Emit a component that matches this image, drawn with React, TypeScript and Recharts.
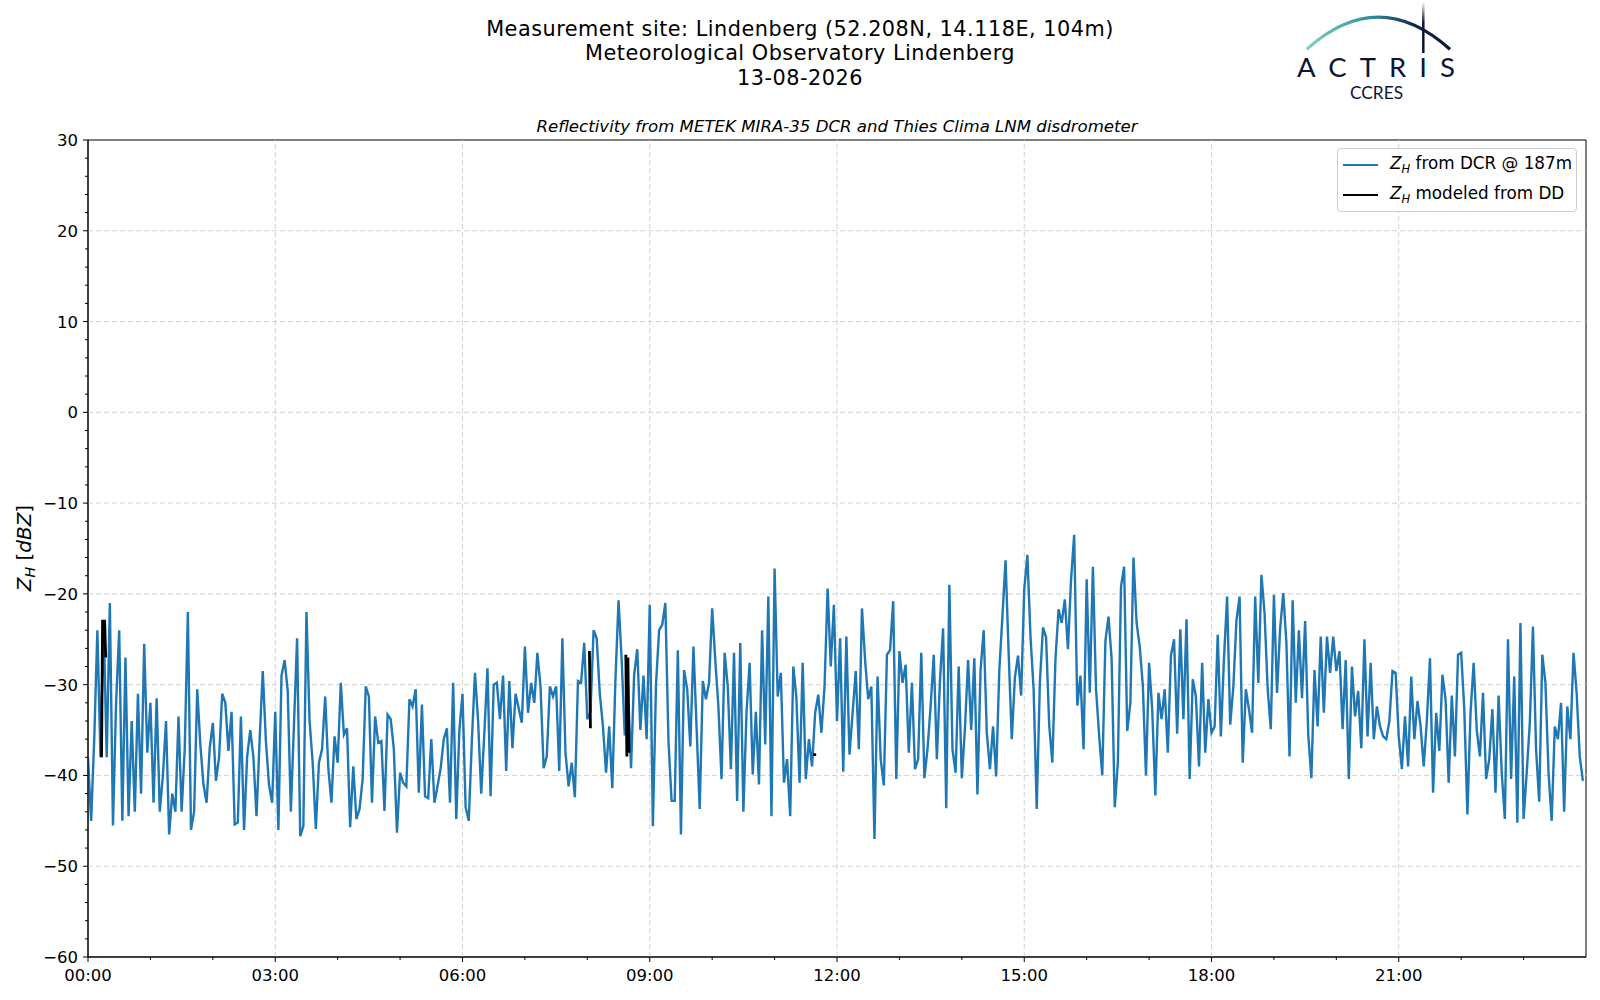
import { LineChart, Line, XAxis, YAxis, ReferenceLine, ReferenceArea, Legend } from 'recharts';

// radar reflectivity at 187 m, one value every 3 minutes, split into 3-hour blocks
const zh0000 = [
  -38, -45, -36, -24, -38, -23, -38, -21, -45.5, -32,
  -24, -45, -27, -44.5, -34, -44, -31, -42, -25.5, -37.5,
  -32, -43, -31.5, -44, -40, -34, -46.5, -42, -44, -33.5,
  -44, -37, -22, -46, -44, -30.5, -36.6, -41, -43, -37,
  -34.2, -40.6, -38, -31, -32, -37.3, -33, -45.4, -45.2, -33.5,
  -46, -37.9, -35, -38, -44.5, -36, -28.5, -36.2, -41, -43,
];
const zh0300 = [
  -33, -46, -29, -27.3, -30.7, -44, -34.4, -24.9, -46.7, -45.6,
  -22, -34, -38.6, -45.9, -38.6, -37.1, -31.3, -39.2, -43, -35.7,
  -38.6, -29.8, -35.5, -34.8, -45.7, -39, -44.8, -43.7, -40.4, -30.2,
  -31.3, -43, -33.5, -36.4, -36.2, -43.9, -33.3, -33.8, -37.1, -46.3,
  -39.7, -40.8, -41.2, -31.6, -32.4, -30.5, -41.9, -32.2, -42.3, -42.5,
  -36, -43, -41.2, -39.2, -36, -34.8, -43, -29.8, -44.8, -35,
];
const zh0600 = [
  -31, -43.5, -45, -36.2, -28.7, -34, -42, -35.3, -28.2, -42.3,
  -30, -29.8, -33.8, -29, -39.5, -29.6, -37, -31, -32.6, -34.2,
  -25.8, -33.1, -29.8, -32, -26.5, -30.2, -39.2, -37.9, -30.2, -31.3,
  -30.2, -39.5, -24.9, -37.5, -41.2, -38.6, -42.4, -29.6, -29.8, -25.4,
  -33.8, -33, -24, -24.9, -31, -34.6, -39.7, -34.6, -41.4, -29.5,
  -20.7, -27.3, -35.6, -30, -39.2, -28.9, -26.1, -35, -29, -36,
];
const zh0900 = [
  -21.2, -45.6, -30, -24, -23.4, -21, -36.2, -42.8, -42.8, -26.2,
  -46.5, -28.4, -30.5, -36.8, -25.8, -34.6, -43.7, -29.6, -31.6, -29.8,
  -21.6, -27.3, -32.4, -40.4, -26.5, -30.2, -39.3, -26.5, -42.8, -25.4,
  -44, -33.1, -27.6, -39.9, -33, -41, -24, -36.6, -20.3, -44.5,
  -17.2, -31.3, -28.7, -40.8, -38.2, -44.5, -28, -31.5, -40.8, -27.6,
  -40.4, -36, -39, -33.1, -31.1, -35.3, -30.2, -19.4, -28, -21.2,
];
const zh1200 = [
  -34, -24.9, -39.6, -24.7, -37.7, -33.1, -28.5, -37.1, -21.6, -27.3,
  -31.6, -30.2, -47, -29.1, -38.2, -41.1, -26.7, -26.2, -20.8, -40.4,
  -26.3, -29.8, -27.8, -37.5, -29.8, -39.3, -38.2, -26.5, -40.3, -37.1,
  -32.4, -26.7, -38.2, -29.5, -23.8, -43.6, -19, -37.1, -39.7, -28,
  -40.3, -34.8, -27.3, -35, -27.1, -42.1, -28.4, -24, -35.3, -39.3,
  -34.6, -40.1, -28.5, -22.5, -16.3, -26.5, -36, -29.2, -26.8, -31.2,
];
const zh1500 = [
  -19.5, -15.7, -24.7, -30.5, -43.7, -29.8, -23.7, -24.8, -34.5, -38.6,
  -27.2, -21.7, -23.2, -20.6, -26.1, -18.4, -13.5, -32.3, -29, -37.1,
  -18.4, -30.9, -17, -30.5, -35.6, -40, -25.2, -22.5, -27.2, -43.5,
  -38.6, -19.2, -17, -35.1, -32, -16, -23.2, -25.8, -30.1, -40,
  -27.6, -32.7, -42.2, -30.9, -33.8, -30.5, -37.5, -26.8, -25, -35.4,
  -23.9, -33.8, -22.8, -40.4, -29.4, -31.3, -39, -27.6, -37.5, -31.6,
];
const zh1800 = [
  -35.3, -34.6, -24.5, -35.7, -27.1, -20.3, -34.4, -30.2, -22.9, -20.3,
  -38.6, -30.5, -32.7, -35.3, -20.3, -29.8, -17.9, -22.1, -30.5, -34.9,
  -20.1, -30.9, -23.8, -19.9, -25.4, -37.9, -20.7, -32, -24, -31.5,
  -23, -35.5, -40.3, -28.4, -34.6, -24.7, -33.1, -24.7, -28.7, -24.7,
  -28.5, -26.3, -34.9, -27.3, -40.4, -28, -33.5, -30.7, -37, -25,
  -35.7, -27.6, -36, -32.4, -34.6, -35.7, -36, -34, -28.5, -28.7,
];
const zh2100 = [
  -35.7, -39.3, -33.5, -39, -29.1, -36, -31.8, -34.6, -39, -34,
  -27.1, -41.9, -33.1, -37.3, -28.9, -31.6, -40.8, -31.2, -37.9, -26.7,
  -26.5, -32.7, -44.3, -33.1, -27.6, -35, -37.9, -30.9, -40.4, -38.2,
  -32.7, -41.9, -31.2, -39.7, -44.8, -25, -40.4, -29.1, -45.2, -23.2,
  -44.8, -39.7, -34.2, -23.6, -37.1, -42.9, -26.7, -29.8, -39.7, -45,
  -34.6, -36, -32, -44, -32.4, -36, -26.5, -30.9, -37.9, -40.6,
];
const STEP_MIN = 3;

// disdrometer-modelled reflectivity (minute of day / dBZ), null breaks the line
const ddTime = [13, 14, 16, 17, 300, 482, 483, 500, 517, 518, 519, 520, 600, 697, 700];
const ddValue = [-38, -23, -23, -27, null, -26.3, -34.8, null, -26.7, -37.9, -27, -37.5, null, -37.7, -37.7];

const xMajorTicks = [0, 180, 360, 540, 720, 900, 1080, 1260];
const xMinorTicks = [60, 120, 240, 300, 420, 480, 600, 660, 780, 840, 960, 1020, 1140, 1200, 1320, 1380];
const yMajorTicks = [-60, -50, -40, -30, -20, -10, 0, 10, 20, 30];

const titleLines = [
  'Measurement site: Lindenberg (52.208N, 14.118E, 104m)',
  'Meteorological Observatory Lindenberg',
  '13-08-2026',
];

const BLUE = '#1f77b4';
const FONT = 'DejaVu Sans';

const series = [zh0000, zh0300, zh0600, zh0900, zh1200, zh1500, zh1800, zh2100]
  .flat()
  .map((v, i) => ({ t: i * STEP_MIN, zh: v }));
const ddData = ddTime.map((t, i) => ({ t, dd: ddValue[i] }));

const xTicks = [...xMajorTicks, ...xMinorTicks].sort((a, b) => a - b);
const yTicks: number[] = [];
for (let v = -60; v <= 30; v += 2) yTicks.push(v);

const clock = (t: number) =>
  `${String(Math.floor(t / 60)).padStart(2, '0')}:${String(t % 60).padStart(2, '0')}`;
const minus = (v: number) => (v < 0 ? `\u2212${Math.abs(v)}` : `${v}`);

const XTick = ({ x, y, payload }: any) => {
  const major = xMajorTicks.includes(payload.value);
  return (
    <g>
      <line x1={x} x2={x} y1={y} y2={y + (major ? 5 : 3)} stroke="#000" strokeWidth={1} />
      {major && (
        <text x={x} y={y + 24} textAnchor="middle" fontSize={16.5} fontFamily={FONT} fill="#000">
          {clock(payload.value)}
        </text>
      )}
    </g>
  );
};

const YTick = ({ x, y, payload }: any) => {
  const major = payload.value % 10 === 0;
  return (
    <g>
      <line x1={x} x2={x - (major ? 5 : 3)} y1={y} y2={y} stroke="#000" strokeWidth={1} />
      {major && (
        <text x={x - 10} y={y + 6} textAnchor="end" fontSize={16.5} fontFamily={FONT} fill="#000">
          {minus(payload.value)}
        </text>
      )}
    </g>
  );
};

const LegendBox = () => (
  <div
    style={{
      position: 'relative',
      width: 240,
      height: 64,
      boxSizing: 'border-box',
      border: '1px solid #cccccc',
      borderRadius: 4,
      background: 'rgba(255,255,255,0.8)',
      fontFamily: FONT,
      fontSize: 16.8,
      color: '#000',
    }}
  >
    {[
      { color: BLUE, label: ' from DCR @ 187m', top: 16 },
      { color: '#000', label: ' modeled from DD', top: 46 },
    ].map((e) => (
      <div key={e.label} style={{ position: 'absolute', left: 5, top: e.top - 11, height: 22, display: 'flex', alignItems: 'center', whiteSpace: 'nowrap' }}>
        <span style={{ display: 'inline-block', width: 35, height: 2.5, background: e.color, marginRight: 12 }} />
        <span>
          <i>Z</i>
          <sub style={{ fontSize: 11.5, fontStyle: 'italic' }}>H</sub>
          {e.label}
        </span>
      </div>
    ))}
  </div>
);

export default function App() {
  return (
    <div style={{ position: 'absolute', left: 0, top: 0, width: 1600, height: 1000, background: '#fff', fontFamily: FONT }}>
      <svg width={1600} height={140} style={{ position: 'absolute', left: 0, top: 0 }}>
        <defs>
          <linearGradient id="arcGrad" x1="1306" y1="0" x2="1450" y2="0" gradientUnits="userSpaceOnUse">
            <stop offset="0" stopColor="#86cfc8" />
            <stop offset="0.45" stopColor="#2f8f9c" />
            <stop offset="0.75" stopColor="#14284a" />
            <stop offset="1" stopColor="#0c1436" />
          </linearGradient>
          <linearGradient id="poleGrad" x1="0" y1="2" x2="0" y2="53" gradientUnits="userSpaceOnUse">
            <stop offset="0" stopColor="#ffffff" />
            <stop offset="0.4" stopColor="#0c1436" />
            <stop offset="1" stopColor="#0c1436" />
          </linearGradient>
        </defs>
        <g fontFamily={FONT} fill="#000" textAnchor="middle">
          {titleLines.map((line, i) => (
            <text key={line} x={800} y={35.5 + i * 24.5} fontSize={20.8} letterSpacing={0.5}>
              {line}
            </text>
          ))}
          <text x={837} y={132} fontSize={16.6} fontStyle="italic">
            Reflectivity from METEK MIRA-35 DCR and Thies Clima LNM disdrometer
          </text>
        </g>
        <path d="M1306.7,49.3 Q1378.3,-15 1450,49.3" fill="none" stroke="url(#arcGrad)" strokeWidth={3.2} />
        <line x1={1423.3} x2={1423.3} y1={2} y2={53} stroke="url(#poleGrad)" strokeWidth={2.5} />
        <text x={1297} y={77.3} fontSize={27.5} fontFamily="Lato" fill="#0c1436" textLength={158} lengthAdjust="spacing">
          ACTRIS
        </text>
        <text x={1350} y={99} fontSize={18} fontFamily="Lato" fill="#0c1436" textLength={53} lengthAdjust="spacingAndGlyphs">
          CCRES
        </text>
      </svg>
      <svg width={60} height={1000} style={{ position: 'absolute', left: 0, top: 0 }}>
        <text
          x={31}
          y={548}
          transform="rotate(-90 31 548)"
          textAnchor="middle"
          fontFamily={FONT}
          fontSize={20}
          fill="#000"
        >
          <tspan fontStyle="italic">Z</tspan>
          <tspan fontStyle="italic" fontSize={14} dy={4}>H</tspan>
          <tspan dy={-4}> [</tspan>
          <tspan fontStyle="italic">dBZ</tspan>
          <tspan>]</tspan>
        </text>
      </svg>
      <div style={{ position: 'absolute', left: 0, top: 0 }}>
        <LineChart width={1600} height={1000} data={series} margin={{ top: 140, right: 14, bottom: 3, left: 28 }}>
          <XAxis
            dataKey="t"
            type="number"
            domain={[0, 1440]}
            ticks={xTicks}
            interval={0}
            height={40}
            tickSize={0}
            tickMargin={0}
            tickLine={false}
            axisLine={{ stroke: '#000' }}
            tick={(p: any) => <XTick {...p} />}
            allowDataOverflow
          />
          <YAxis
            type="number"
            domain={[-60, 30]}
            ticks={yTicks}
            interval={0}
            width={60}
            tickSize={0}
            tickMargin={0}
            tickLine={false}
            axisLine={{ stroke: '#000' }}
            tick={(p: any) => <YTick {...p} />}
            allowDataOverflow
          />
          {yMajorTicks.slice(1, -1).map((v) => (
            <ReferenceLine key={`gy${v}`} y={v} stroke="#d3d3d3" strokeDasharray="5 3" strokeWidth={1} />
          ))}
          {xMajorTicks.slice(1).map((t) => (
            <ReferenceLine key={`gx${t}`} x={t} stroke="#d3d3d3" strokeDasharray="5 3" strokeWidth={1} />
          ))}
          <ReferenceArea x1={0} x2={1440} y1={-60} y2={30} fill="none" stroke="#000" strokeWidth={1} />
          <Line
            dataKey="zh"
            stroke={BLUE}
            strokeWidth={2.4}
            dot={false}
            activeDot={false}
            isAnimationActive={false}
          />
          <Line
            data={ddData}
            dataKey="dd"
            stroke="#000"
            strokeWidth={2.8}
            dot={false}
            activeDot={false}
            connectNulls={false}
            isAnimationActive={false}
          />
          <Legend
            layout="horizontal"
            verticalAlign="middle"
            align="center"
            wrapperStyle={{ top: 148, left: 1337, width: 240, height: 64 }}
            content={() => <LegendBox />}
          />
        </LineChart>
      </div>
    </div>
  );
}
